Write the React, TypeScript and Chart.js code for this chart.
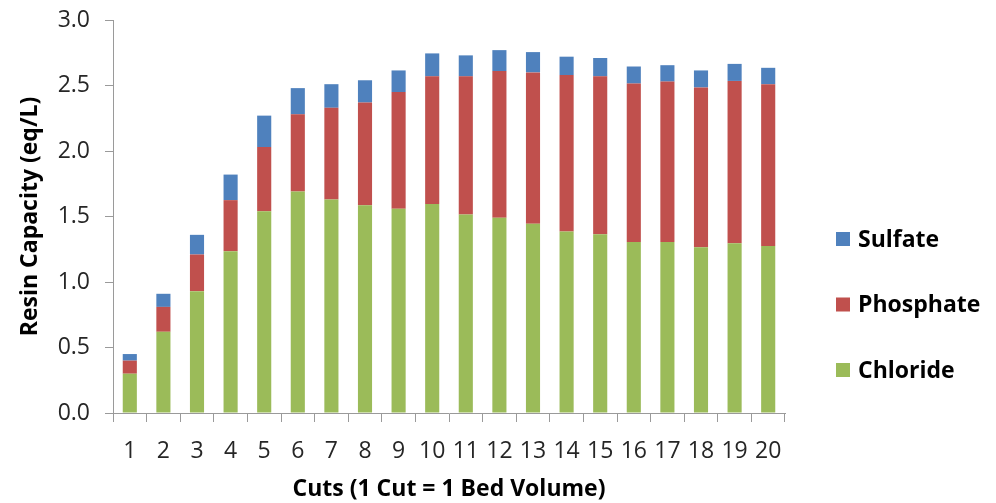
import React, { useEffect, useRef } from 'react';
import { Chart, registerables } from 'chart.js';

Chart.register(...registerables);

const categories = ['1', '2', '3', '4', '5', '6', '7', '8', '9', '10', '11', '12', '13', '14', '15', '16', '17', '18', '19', '20'];
const chloride = [0.30, 0.62, 0.93, 1.235, 1.54, 1.69, 1.63, 1.585, 1.56, 1.595, 1.515, 1.49, 1.445, 1.385, 1.365, 1.305, 1.305, 1.265, 1.295, 1.275];
const phosphate = [0.10, 0.19, 0.28, 0.39, 0.49, 0.59, 0.70, 0.785, 0.89, 0.975, 1.055, 1.12, 1.155, 1.195, 1.205, 1.21, 1.225, 1.22, 1.24, 1.235];
const sulfate = [0.05, 0.10, 0.15, 0.195, 0.24, 0.20, 0.18, 0.17, 0.165, 0.175, 0.16, 0.16, 0.155, 0.14, 0.14, 0.13, 0.125, 0.13, 0.13, 0.125];

const seriesNames = ['Chloride', 'Phosphate', 'Sulfate'];
const seriesColors = ['#9BBB59', '#C0504D', '#4F81BD'];

const xTitle = 'Cuts (1 Cut = 1 Bed Volume)';
const yTitle = 'Resin Capacity (eq/L)';

const FONT = '"Open Sans", Lato, sans-serif';
const SIZE = 23;
const AXIS = '#9a9a9a';
const TICK_TEXT = '#262626';

const sideLegend = {
  id: 'sideLegend',
  afterDraw(chart: any) {
    const ctx = chart.ctx;
    const area = chart.chartArea;
    const items = [...chart.data.datasets].reverse();
    ctx.save();
    ctx.font = `bold ${SIZE}px ${FONT}`;
    ctx.textBaseline = 'middle';
    ctx.textAlign = 'left';
    items.forEach((ds: any, i: number) => {
      const cy = area.top + 219 + i * 65.5;
      const x = area.right + 51;
      ctx.fillStyle = ds.backgroundColor;
      ctx.fillRect(x, cy - 7, 14, 14);
      ctx.fillStyle = '#000000';
      ctx.fillText(ds.label, x + 22, cy + 1);
    });
    ctx.restore();
  },
};

export default function App() {
  const canvasRef = useRef<HTMLCanvasElement | null>(null);

  useEffect(() => {
    document.body.style.margin = '0';
    const canvas = canvasRef.current;
    if (!canvas) return;
    const values = [chloride, phosphate, sulfate];
    const chart = new Chart(canvas, {
      type: 'bar',
      data: {
        labels: categories,
        datasets: seriesNames.map((name, i) => ({
          label: name,
          data: values[i],
          backgroundColor: seriesColors[i],
          borderWidth: 0,
          categoryPercentage: 1,
          barPercentage: 0.42,
        })),
      },
      options: {
        responsive: false,
        animation: false,
        devicePixelRatio: 1,
        layout: { padding: { top: 20, right: 211, bottom: 0, left: 0 } },
        plugins: {
          legend: { display: false },
          tooltip: { enabled: false },
        },
        scales: {
          x: {
            stacked: true,
            afterFit: (s: any) => { s.height = 90; s.paddingLeft = 0; s.paddingRight = 0; },
            grid: {
              display: true,
              drawOnChartArea: false,
              drawTicks: true,
              tickLength: 9,
              offset: true,
              color: AXIS,
            },
            border: { display: true, color: AXIS, width: 1 },
            ticks: {
              color: TICK_TEXT,
              font: { family: FONT, size: SIZE },
              padding: 16,
              maxRotation: 0,
              autoSkip: false,
            },
            title: {
              display: true,
              text: xTitle,
              color: '#000000',
              font: { family: FONT, size: SIZE, weight: 'bold' },
              padding: { top: 0, bottom: 0 },
            },
          },
          y: {
            stacked: true,
            min: 0,
            max: 3,
            afterFit: (s: any) => { s.width = 113; s.paddingTop = 5; s.paddingBottom = 5; },
            grid: {
              display: true,
              drawOnChartArea: false,
              drawTicks: true,
              tickLength: 8,
              color: AXIS,
            },
            border: { display: true, color: AXIS, width: 1 },
            ticks: {
              stepSize: 0.5,
              color: TICK_TEXT,
              font: { family: FONT, size: SIZE },
              padding: 15,
              callback: (v: any) => Number(v).toFixed(1),
            },
            title: {
              display: true,
              text: yTitle,
              color: '#000000',
              font: { family: FONT, size: SIZE, weight: 'bold' },
              padding: { top: 17, bottom: 0 },
            },
          },
        },
      },
      plugins: [sideLegend],
    });
    return () => chart.destroy();
  }, []);

  return (
    <div style={{ width: 996, height: 503 }}>
      <canvas ref={canvasRef} width={996} height={503} />
    </div>
  );
}
